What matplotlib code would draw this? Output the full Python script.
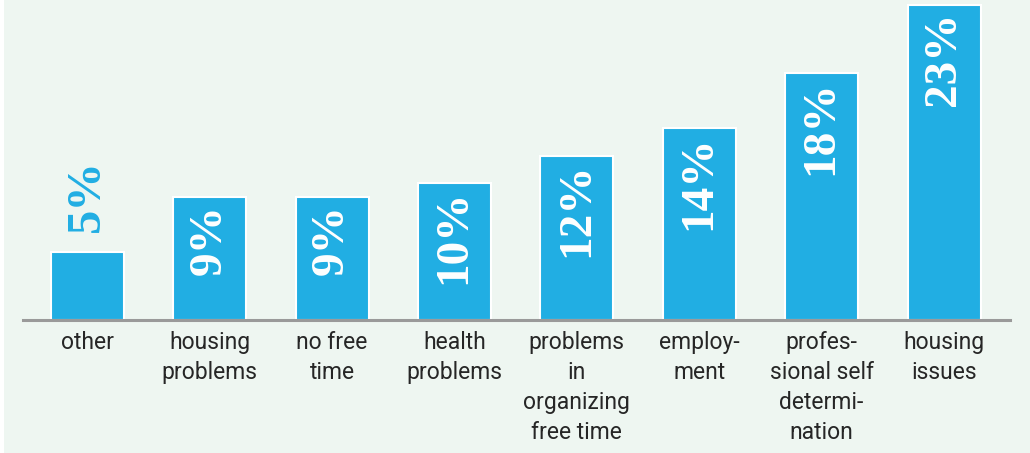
import matplotlib.pyplot as plt
from matplotlib.patches import Rectangle

# share of answers per category, in percent
categories = [
    "other",
    "housing\nproblems",
    "no free\ntime",
    "health\nproblems",
    "problems\nin\norganizing\nfree time",
    "employ-\nment",
    "profes-\nsional self\ndetermi-\nnation",
    "housing\nissues",
]
shares = [5, 9, 9, 10, 12, 14, 18, 23]
share_labels = ["5%", "9%", "9%", "10%", "12%", "14%", "18%", "23%"]

BAR = "#21aee3"
BG = "#eef6f1"

fig = plt.figure(figsize=(10.3, 4.53), dpi=100, facecolor="white")
fig.patches.append(Rectangle((4 / 1030, 0), 1, 1, transform=fig.transFigure,
                             facecolor=BG, edgecolor="none", zorder=-10))

ax = fig.add_axes([23 / 1030, 133 / 453, 987 / 1030, 320 / 453])
ax.set_facecolor("none")

x = list(range(len(categories)))
ax.bar(x, shares, width=0.596, color=BAR, edgecolor="white", linewidth=1.5, zorder=2)

ax.set_xlim(-0.525, 7.539)
ax.set_ylim(0, 23.36)

# value labels: inside the bar, or above it when the bar is too short
for xi, v, lab in zip(x, shares, share_labels):
    if v < 7:
        ax.annotate(lab, (xi, v), xytext=(0, 14), textcoords="offset points",
                    rotation=90, ha="center", va="bottom", color=BAR,
                    fontsize=35, fontweight="bold", family="Liberation Serif")
    else:
        ax.annotate(lab, (xi, v), xytext=(0, -5), textcoords="offset points",
                    rotation=90, ha="center", va="top", color="white",
                    fontsize=34, fontweight="bold", family="Liberation Serif")

ax.axhline(0, color="#9a9a9a", linewidth=2.2, zorder=3, clip_on=False)

for s in ax.spines.values():
    s.set_visible(False)
ax.set_yticks([])
ax.set_xticks(x)
ax.set_xticklabels(categories, fontsize=16.5, color="#262626", linespacing=1.38,
                   family="Roboto")
ax.tick_params(axis="x", length=0, pad=8)

fig.savefig("out.png", dpi=100, facecolor=fig.get_facecolor())
